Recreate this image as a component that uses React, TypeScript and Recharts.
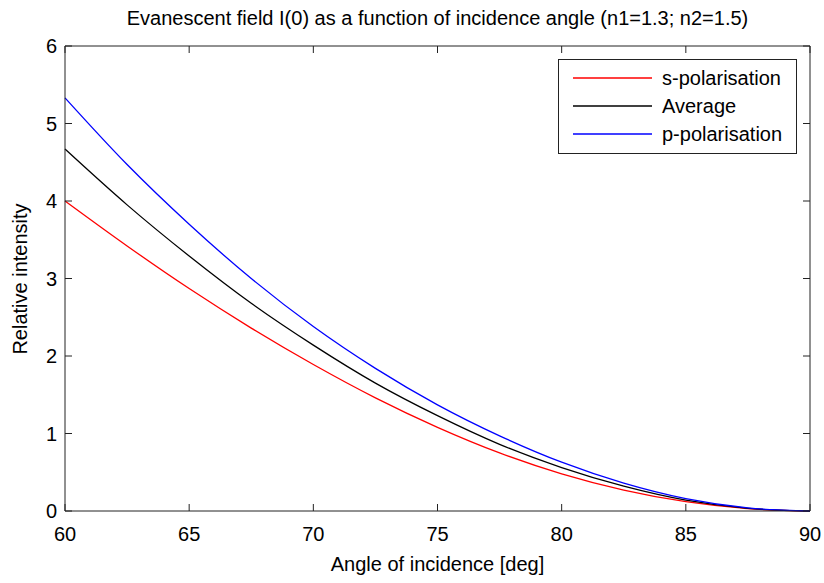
import { Legend, Line, LineChart, ReferenceLine, XAxis, YAxis } from "recharts";

// angle of incidence [deg]
const angles = [60, 62.5, 65, 67.5, 70, 72.5, 75, 77.5, 80, 82.5, 85, 87.5, 90];
// relative intensity
const sPolarisation = [4.0, 3.42, 2.87, 2.36, 1.89, 1.46, 1.08, 0.75, 0.48, 0.27, 0.12, 0.03, 0];
const averageIntensity = [4.67, 3.95, 3.29, 2.68, 2.14, 1.65, 1.23, 0.86, 0.56, 0.32, 0.14, 0.035, 0];
const pPolarisation = [5.33, 4.47, 3.7, 3.0, 2.38, 1.84, 1.37, 0.97, 0.63, 0.36, 0.16, 0.04, 0];

const seriesNames = ["s-polarisation", "Average", "p-polarisation"];
const seriesKeys = ["s", "avg", "p"];
const seriesColors = ["#ff0000", "#000000", "#0000ff"];

const xTicks = [60, 65, 70, 75, 80, 85, 90];
const yTicks = [0, 1, 2, 3, 4, 5, 6];

const W = 824;
const H = 583;
const PLOT_TOP = 46;
const PLOT_BOTTOM = 511;
const PLOT_LEFT = 65;
const PLOT_RIGHT = 810;
const TICK_LEN = 7;
const AXIS = "#222";
const FONT = '"Liberation Sans", Arial, Helvetica, sans-serif';
const FS = 20;

const rows = angles.map((a, i) => ({
  angle: a,
  s: sPolarisation[i],
  avg: averageIntensity[i],
  p: pPolarisation[i],
}));

function XTick({ x, payload }: any) {
  return (
    <g>
      <line x1={x} x2={x} y1={PLOT_BOTTOM} y2={PLOT_BOTTOM - TICK_LEN} stroke={AXIS} />
      <line x1={x} x2={x} y1={PLOT_TOP} y2={PLOT_TOP + TICK_LEN} stroke={AXIS} />
      <text x={x} y={PLOT_BOTTOM + 30} textAnchor="middle" fontFamily={FONT} fontSize={FS} fill="#000">
        {payload.value}
      </text>
    </g>
  );
}

function YTick({ y, payload }: any) {
  return (
    <g>
      <line x1={PLOT_LEFT} x2={PLOT_LEFT + TICK_LEN} y1={y} y2={y} stroke={AXIS} />
      <line x1={PLOT_RIGHT} x2={PLOT_RIGHT - TICK_LEN} y1={y} y2={y} stroke={AXIS} />
      <text x={PLOT_LEFT - 8} y={y + 7} textAnchor="end" fontFamily={FONT} fontSize={FS} fill="#000">
        {payload.value}
      </text>
    </g>
  );
}

// legend drawn in series order (recharts would sort it by name)
function LegendBox() {
  return (
    <div
      style={{
        border: `1px solid ${AXIS}`,
        background: "#fff",
        width: 239,
        height: 95,
        boxSizing: "border-box",
        paddingTop: 3.5,
        fontFamily: FONT,
        fontSize: FS,
        color: "#000",
      }}
    >
      {seriesNames.map((name, i) => (
        <div key={name} style={{ display: "flex", alignItems: "center", height: 28.3 }}>
          <svg width={94} height={6} style={{ display: "block" }}>
            <line x1={14} x2={93} y1={3} y2={3} stroke={seriesColors[i]} strokeWidth={1.3} />
          </svg>
          <span style={{ marginLeft: 9, lineHeight: "20px", whiteSpace: "nowrap" }}>{name}</span>
        </div>
      ))}
    </div>
  );
}

export default function App() {
  return (
    <div style={{ position: "absolute", left: 0, top: 0, width: W, height: H, background: "#fff" }}>
      <LineChart
        width={W}
        height={H}
        data={rows}
        margin={{ top: PLOT_TOP, right: W - PLOT_RIGHT, bottom: H - PLOT_BOTTOM - 40, left: PLOT_LEFT - 50 }}
      >
        <XAxis
          dataKey="angle"
          type="number"
          domain={[60, 90]}
          ticks={xTicks}
          height={40}
          tickLine={false}
          axisLine={{ stroke: AXIS }}
          tick={<XTick />}
          interval={0}
        />
        <YAxis
          type="number"
          domain={[0, 6]}
          ticks={yTicks}
          width={50}
          tickLine={false}
          axisLine={{ stroke: AXIS }}
          tick={<YTick />}
          interval={0}
        />
        <ReferenceLine y={6} stroke={AXIS} />
        <ReferenceLine x={90} stroke={AXIS} />
        {seriesKeys.map((k, i) => (
          <Line
            key={k}
            type="monotone"
            dataKey={k}
            name={seriesNames[i]}
            stroke={seriesColors[i]}
            strokeWidth={1.3}
            dot={false}
            isAnimationActive={false}
          />
        ))}
        <Legend
          layout="vertical"
          align="center"
          verticalAlign="middle"
          content={<LegendBox />}
          wrapperStyle={{ left: 558, top: 59, width: 239, height: 95 }}
        />
      </LineChart>
      <div
        style={{
          position: "absolute",
          left: PLOT_LEFT,
          width: PLOT_RIGHT - PLOT_LEFT,
          top: 8,
          textAlign: "center",
          fontFamily: FONT,
          fontSize: FS,
          lineHeight: "20px",
          whiteSpace: "nowrap",
        }}
      >
        Evanescent field I(0) as a function of incidence angle (n1=1.3; n2=1.5)
      </div>
      <div
        style={{
          position: "absolute",
          left: PLOT_LEFT,
          width: PLOT_RIGHT - PLOT_LEFT,
          top: 554,
          textAlign: "center",
          fontFamily: FONT,
          fontSize: FS,
          lineHeight: "20px",
          whiteSpace: "nowrap",
        }}
      >
        Angle of incidence [deg]
      </div>
      <div
        style={{
          position: "absolute",
          left: 20 - 150,
          top: (PLOT_TOP + PLOT_BOTTOM) / 2 - 10,
          width: 300,
          height: 20,
          textAlign: "center",
          fontFamily: FONT,
          fontSize: FS,
          lineHeight: "20px",
          whiteSpace: "nowrap",
          transform: "rotate(-90deg)",
        }}
      >
        Relative intensity
      </div>
    </div>
  );
}
